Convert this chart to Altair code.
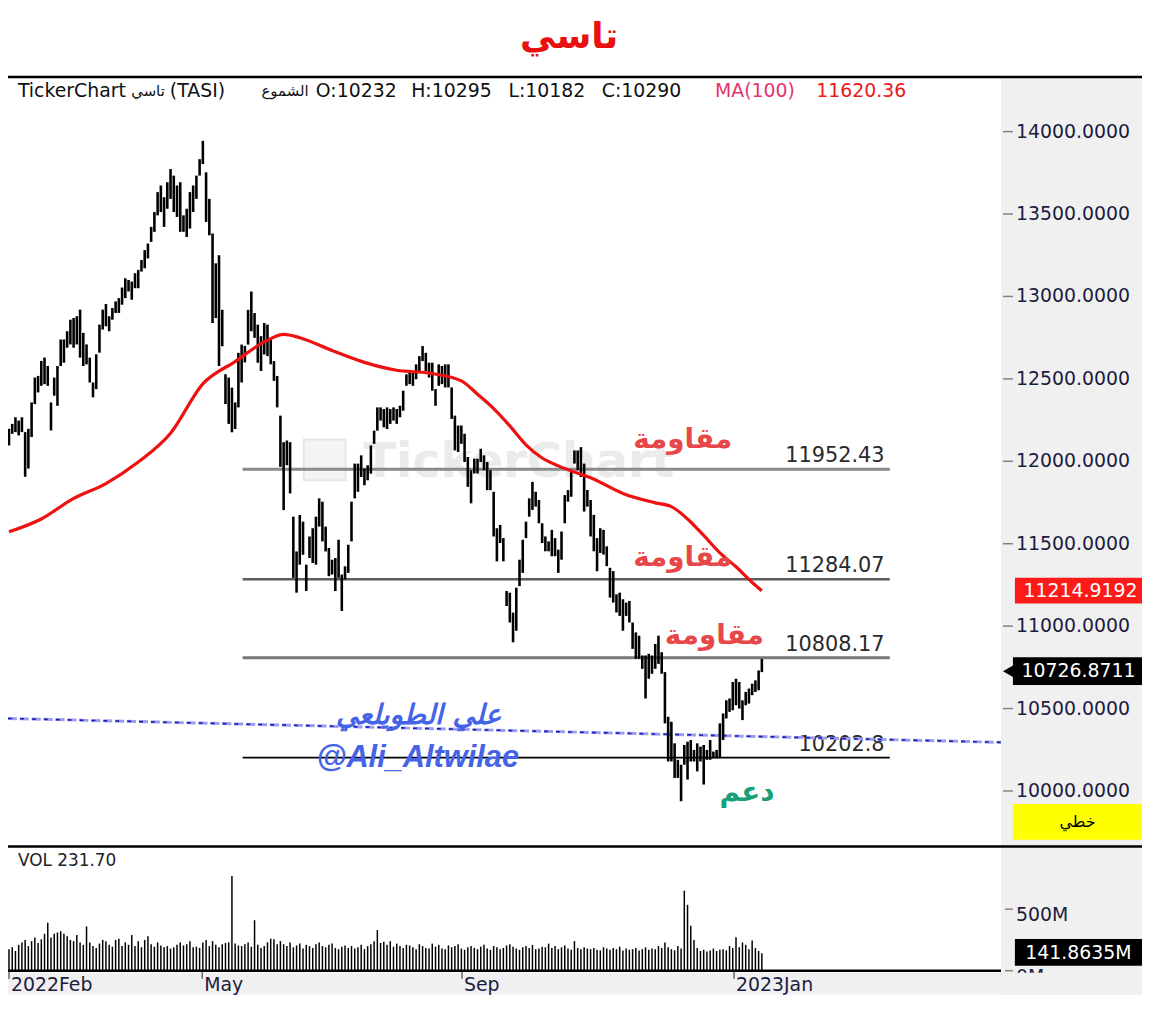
import altair as alt
import pandas as pd

# ---------------- data ----------------
high = [12197,12227,12267,12247,12267,12177,12197,12357,12508,12518,
        12609,12629,12578,12357,12508,12578,12739,12739,12789,12859,
        12869,12880,12920,12779,12709,12629,12478,12649,12829,12920,
        12954,12880,12930,12970,12990,13054,13110,13100,13090,13141,
        13161,13221,13281,13321,13422,13512,13633,13673,13602,13693,
        13773,13733,13673,13693,13492,13532,13633,13673,13733,13833,
        13944,13753,13592,13382,
        13201,13250,12919,12528,12508,12447,12357,12658,12708,12700,
        12919,13030,12899,12829,12759,12839,12829,12739,12608,12518,
        12277,12116,12126,12116,11664,11453,11674,11634,11373,11544,
        11594,11664,11775,11755,11604,11474,11403,11413,11524,11313,
        11363,11494,11755,11986,11986,12036,11956,11976,12096,12186,
        12327,12327,12317,12327,12317,12327,12317,
        12337,12428,12528,12548,12538,12588,12638,12699,12658,12598,
        12598,12438,12588,12578,12588,12588,12448,12277,12217,12217,
        12167,12026,11946,12016,12016,12076,12036,11996,11946,11815,
        11594,11614,11534,11213,11203,11082,11233,11403,11524,11634,
        11775,11875,11815,11765,11624,11544,11514,11584,11534,11464,
        11574,11795,11825,11946,12066,12066,12086,
        11986,11826,11765,11675,11534,11594,11584,11484,11354,11334,
        11193,11203,11163,11143,11153,11022,10962,10942,10822,10822,
        10832,10822,10892,10942,10842,10721,10450,10420,10289,10189,
        10159,10279,10299,10309,10249,10289,10269,10279,10249,10309,
        10239,10249,10410,10470,10550,10561,10661,10681,10661,10550,
        10601,10621,10651,10671,10731,10801]
low = [12096,12167,12177,12157,12177,11906,11956,12147,12347,12418,
       12458,12468,12458,12187,12398,12337,12578,12598,12689,12709,
       12689,12709,12629,12578,12588,12478,12388,12438,12659,12799,
       12819,12789,12859,12900,12900,12950,12990,13030,12980,13050,
       13050,13151,13171,13231,13331,13392,13492,13512,13422,13532,
       13592,13512,13482,13392,13392,13361,13412,13512,13592,13733,
       13803,13452,13371,12839,
       12869,12578,12698,12347,12227,12176,12196,12327,12478,12600,
       12708,12789,12749,12598,12548,12648,12638,12588,12488,12327,
       11966,11704,11976,11805,11293,11203,11373,11433,11213,11413,
       11383,11373,11604,11514,11453,11303,11313,11213,11293,11092,
       11283,11323,11514,11775,11815,11905,11855,11885,11925,12106,
       12186,12247,12206,12196,12227,12247,12227,
       12267,12307,12458,12468,12458,12498,12538,12608,12548,12508,
       12428,12337,12458,12468,12448,12448,12257,12066,12056,12106,
       11996,11845,11745,11926,11926,11996,11946,11825,11825,11544,
       11393,11504,11393,11122,11022,10902,10972,11243,11323,11534,
       11664,11705,11725,11624,11504,11454,11454,11424,11424,11323,
       11403,11624,11755,11785,11986,11946,11905,
       11695,11725,11544,11454,11333,11444,11434,11364,11173,11143,
       11083,11062,10972,11062,11022,10862,10802,10802,10741,10561,
       10681,10711,10741,10771,10711,10410,10179,10179,10079,10079,
       9938,10159,10069,10179,10179,10119,10179,10039,10189,10189,
       10199,10199,10199,10309,10440,10480,10490,10520,10500,10430,
       10520,10530,10581,10601,10611,10721]
volume = [175,190,160,210,230,250,200,240,270,225,255,300,
          390,270,300,310,320,300,280,250,240,290,230,210,
          360,230,200,185,220,250,240,210,195,250,260,200,
          230,210,290,200,240,190,250,280,215,195,230,205,
          190,200,180,190,210,230,205,215,240,190,195,185,
          230,250,200,240,210,190,215,225,230,770,220,205,
          200,215,230,195,410,210,185,200,230,260,255,215,
          240,215,200,230,190,205,220,180,210,200,185,215,
          230,200,190,210,220,185,175,195,205,185,200,180,
          190,210,175,200,215,240,330,225,235,210,240,195,
          220,200,185,210,205,190,175,215,200,185,180,220,
          195,210,180,175,205,190,200,215,180,170,190,200,
          185,175,195,210,180,170,200,190,175,185,205,215,
          195,180,170,190,200,185,210,175,180,195,190,220,
          185,200,175,190,205,180,170,240,185,175,190,180,
          175,185,170,165,190,180,170,185,175,195,165,180,
          170,175,185,165,175,190,170,180,175,200,185,230,
          190,175,165,200,180,650,535,365,250,185,160,170,
          155,165,180,160,170,175,165,200,185,272,190,230,
          210,175,245,185,160,142]

ma_idx = [0, 10, 20, 30, 40, 50, 60, 70, 80, 85, 90, 100, 110, 120, 130, 140, 145,
          150, 155, 160, 165, 170, 175, 180, 190, 200, 205, 210, 215, 220, 225, 230, 233]
ma_val = [11572, 11650, 11775, 11865, 11995, 12170, 12470, 12605, 12735, 12770, 12750,
          12672, 12600, 12552, 12535, 12488, 12407, 12320, 12215, 12100, 12020, 11972,
          11935, 11900, 11805, 11748, 11725, 11650, 11550, 11445, 11360, 11265, 11215]

levels = [11952.43, 11284.07, 10808.17, 10202.8]
level_labels = ["11952.43", "11284.07", "10808.17", "10202.8"]
level_start_idx = 72.3
level_end_idx = 272.6
level_label_idx = 271.0

trend_idx = [-0.305, 307.01]
trend_val = [10440, 10295]

price_ticks = [10000, 10500, 11000, 11500, 12000, 12500, 13000, 13500, 14000]
price_tick_labels = ["10000.0000", "10500.0000", "11000.0000", "11500.0000", "12000.0000",
                     "12500.0000", "13000.0000", "13500.0000", "14000.0000"]
vol_ticks = [0, 500]
vol_tick_labels = ["0M", "500M"]
month_idx = [0, 59.8, 140.2, 224.4]
month_labels = ["2022Feb", "May", "Sep", "2023Jan"]

ma_last = 11214.9192
last_close = 10726.8711
last_volume_label = "141.8635M"

resist_text = "مقاومة"
resist_idx = [208.5, 208.5, 218.3]
resist_val = [12126, 11416, 10940]
support_text = "دعم"
support_pos = (228.4, 9988)
author_ar = "علي الطويلعي"
author_ar_pos = (126.8, 10452)
author_en = "@Ali_Altwilae"
author_en_pos = (126.5, 10199)

# ---------------- scales ----------------
XS = alt.Scale(domain=[-0.305, 307.01], range=[0, 1000], nice=False, zero=False)
YP = alt.Scale(domain=[9668.7, 14325.3], range=[840, 67], nice=False, zero=False)
YV = alt.Scale(domain=[0, 1000], range=[966, 842], nice=False, zero=False)

FONT = "DejaVu Sans"
one = pd.DataFrame({"k": [0]})


def xq(f):
    return alt.X(f, type="quantitative", scale=XS, axis=None)


def yp(f):
    return alt.Y(f, type="quantitative", scale=YP, axis=None)


def yv(f):
    return alt.Y(f, type="quantitative", scale=YV, axis=None)


def box(x1, x2, y1, y2, color):
    return alt.Chart(one).mark_rect(color=color).encode(
        x=alt.value(x1), x2=alt.value(x2), y=alt.value(y1), y2=alt.value(y2))


def hline(y, x1, x2, color, w):
    return alt.Chart(one).mark_rule(color=color, strokeWidth=w).encode(
        x=alt.value(x1), x2=alt.value(x2), y=alt.value(y))


def label(text, x, y, size, color, align="left", weight="normal", font=FONT, style="normal"):
    return alt.Chart(one).mark_text(text=text, align=align, baseline="middle", fontSize=size,
                                    color=color, font=font, fontWeight=weight,
                                    fontStyle=style).encode(x=alt.value(x), y=alt.value(y))


bars = pd.DataFrame({"i": list(range(len(high))), "high": high, "low": low,
                     "vol": volume, "v0": [0] * len(volume)})
ma = pd.DataFrame({"i": ma_idx, "v": ma_val})
trend = pd.DataFrame({"i": trend_idx, "v": trend_val})

layers = []

# backgrounds
layers.append(box(1000, 1142, 67, 990, "#f0f0f0"))

# watermark
layers.append(alt.Chart(one).mark_rect(color="#f4f4f4", stroke="#e6e6e6", strokeWidth=2).encode(
    x=alt.value(298), x2=alt.value(340), y=alt.value(431), y2=alt.value(472)))
layers.append(label("TickerChart", 358, 455, 48, "#ebebeb", weight="bold"))

# support / resistance levels
lvl_styles = [("#8a8a8a", 3), ("#5c5c5c", 2.5), ("#777777", 3), ("#000000", 1.8)]
for lv, (col, w) in zip(levels, lvl_styles):
    d = pd.DataFrame({"a": [level_start_idx], "b": [level_end_idx], "p": [lv]})
    layers.append(alt.Chart(d).mark_rule(color=col, strokeWidth=w).encode(
        x=xq("a"), x2=alt.X2("b"), y=yp("p")))

lvl_df = pd.DataFrame({"i": [level_label_idx] * 4, "p": levels, "t": level_labels})
layers.append(alt.Chart(lvl_df).mark_text(align="right", baseline="middle", dy=-13,
                                          fontSize=21, font=FONT, color="#2a2a2a").encode(
    x=xq("i"), y=yp("p"), text="t:N"))

# trend line (dashed blue)
layers.append(alt.Chart(trend).mark_line(color="#9b9bf0", strokeWidth=3, strokeDash=[9, 3]).encode(
    x=xq("i"), y=yp("v")))
layers.append(alt.Chart(trend).mark_line(color="#1c1cb4", strokeWidth=1.6, strokeDash=[4, 8]).encode(
    x=xq("i"), y=yp("v")))

# price bars
layers.append(alt.Chart(bars).mark_rule(color="black", strokeWidth=2.6).encode(
    x=xq("i"), y=yp("low"), y2=alt.Y2("high")))

# MA(100)
layers.append(alt.Chart(ma).mark_line(color="#ee1111", strokeWidth=3.2, interpolate="monotone").encode(
    x=xq("i"), y=yp("v")))

# annotations
res_df = pd.DataFrame({"i": resist_idx, "p": resist_val, "t": [resist_text] * 3})
layers.append(alt.Chart(res_df).mark_text(align="center", baseline="middle", fontSize=28,
                                          font=FONT, fontWeight="bold", color="#e8474a").encode(
    x=xq("i"), y=yp("p"), text="t:N"))
sup_df = pd.DataFrame({"i": [support_pos[0]], "p": [support_pos[1]], "t": [support_text]})
layers.append(alt.Chart(sup_df).mark_text(align="center", baseline="middle", fontSize=28,
                                          font=FONT, fontWeight="bold", color="#17a07a").encode(
    x=xq("i"), y=yp("p"), text="t:N"))
au1 = pd.DataFrame({"i": [author_ar_pos[0]], "p": [author_ar_pos[1]], "t": [author_ar]})
layers.append(alt.Chart(au1).mark_text(align="center", baseline="middle", fontSize=28,
                                       font=FONT, fontWeight="bold", fontStyle="italic",
                                       color="#4463e6").encode(
    x=xq("i"), y=yp("p"), text="t:N"))
au2 = pd.DataFrame({"i": [author_en_pos[0]], "p": [author_en_pos[1]], "t": [author_en]})
layers.append(alt.Chart(au2).mark_text(align="center", baseline="middle", fontSize=31,
                                       font="Liberation Sans", fontWeight="bold", fontStyle="italic",
                                       color="#4463e6").encode(
    x=xq("i"), y=yp("p"), text="t:N"))

# volume
layers.append(alt.Chart(bars).mark_rule(color="black", strokeWidth=1.5).encode(
    x=xq("i"), y=yv("vol"), y2=alt.Y2("v0")))

# frame lines
layers.append(hline(66, 0, 1142, "black", 2.5))
layers.append(hline(841, 0, 1142, "black", 2.5))
layers.append(hline(966, 0, 1000, "black", 2.5))

# right price axis
pt = pd.DataFrame({"p": price_ticks, "t": price_tick_labels})
layers.append(alt.Chart(pt).mark_rule(color="#808080", strokeWidth=1.5).encode(
    x=alt.value(1002), x2=alt.value(1012), y=yp("p")))
layers.append(alt.Chart(pt).mark_text(align="left", baseline="middle", fontSize=19, font=FONT,
                                      color="#1c1c40").encode(
    x=alt.value(1015), y=yp("p"), text="t:N"))

# MA value box
mab = pd.DataFrame({"p": [ma_last], "t": [f"{ma_last:.4f}"]})
layers.append(alt.Chart(mab).mark_rect(color="#ff1a1a", yOffset=-13, y2Offset=13).encode(
    x=alt.value(1014), x2=alt.value(1142), y=yp("p"), y2=alt.Y2("p")))
layers.append(alt.Chart(mab).mark_text(align="center", baseline="middle", fontSize=19, font=FONT,
                                       color="white").encode(
    x=alt.value(1080), y=yp("p"), text="t:N"))

# last close box
clb = pd.DataFrame({"p": [last_close], "t": [f"{last_close:.4f}"]})
layers.append(alt.Chart(clb).mark_rect(color="black", yOffset=-14, y2Offset=14).encode(
    x=alt.value(1012), x2=alt.value(1142), y=yp("p"), y2=alt.Y2("p")))
layers.append(alt.Chart(clb).mark_point(shape="triangle-left", filled=True, size=260, color="black",
                                        opacity=1).encode(
    x=alt.value(1009), y=yp("p")))
layers.append(alt.Chart(clb).mark_text(align="center", baseline="middle", fontSize=19, font=FONT,
                                       color="white").encode(
    x=alt.value(1078), y=yp("p"), text="t:N"))

# yellow scale-type box
layers.append(box(1012, 1142, 798, 834, "#ffff00"))
layers.append(label("خطي", 1077, 816, 16, "black", align="center"))

# volume axis
vt = pd.DataFrame({"v": vol_ticks, "t": vol_tick_labels})
layers.append(alt.Chart(vt).mark_rule(color="#808080", strokeWidth=1.5).encode(
    x=alt.value(1004), x2=alt.value(1012), y=yv("v")))
layers.append(alt.Chart(vt).mark_text(align="left", baseline="middle", fontSize=19, font=FONT,
                                      color="#1c1c40", dy=6).encode(
    x=alt.value(1015), y=yv("v"), text="t:N"))
layers.append(box(1014, 1142, 934, 961, "black"))
layers.append(label(last_volume_label, 1078, 948, 19, "white", align="center"))

# bottom time axis band
layers.append(box(0, 1142, 968, 990, "#f0f0f0"))
mt = pd.DataFrame({"i": month_idx, "t": month_labels})
layers.append(alt.Chart(mt).mark_rule(color="#444444", strokeWidth=1.2).encode(
    x=xq("i"), y=alt.value(967), y2=alt.value(974)))
layers.append(alt.Chart(mt).mark_text(align="left", baseline="middle", fontSize=19, font=FONT,
                                      color="#1c1c40", dx=2).encode(
    x=xq("i"), y=alt.value(980), text="t:N"))

# header texts
layers.append(label("تاسي", 565, 26, 36, "#e81010", align="center", weight="bold"))
hdr = [("TickerChart", 10), ("(TASI)", 163), ("O:10232", 310), ("H:10295", 406),
       ("L:10182", 504), ("C:10290", 598)]
for t, x in hdr:
    layers.append(label(t, x, 80, 19, "#111111"))
layers.append(label("تاسي", 141, 80, 15, "#111111", align="center"))
layers.append(label("الشموع", 279, 80, 15, "#111111", align="center"))
layers.append(label("MA(100)", 712, 80, 19, "#e5336d"))
layers.append(label("11620.36", 814, 80, 19, "#e8191a"))
layers.append(label("VOL  231.70", 10, 856, 17, "#222222"))

chart = alt.layer(*layers).resolve_scale(y="independent").properties(
    width=1142, height=990, padding=0, autosize="none", background="white"
).configure_view(stroke=None)

chart.save("out.html", embed_options={"renderer": "svg", "actions": False})
